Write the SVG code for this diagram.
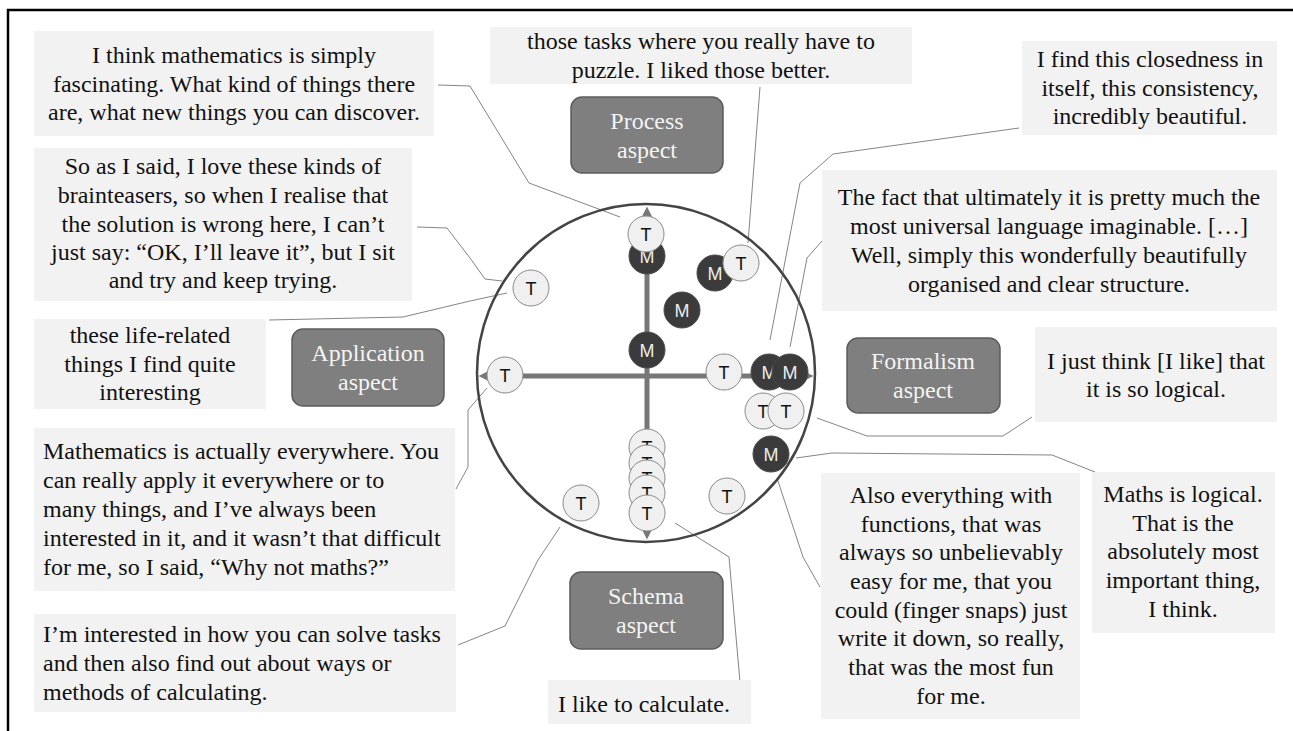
<svg xmlns="http://www.w3.org/2000/svg" width="1293" height="731" viewBox="0 0 1293 731">
<defs>
<style>
.q{fill:#f2f2f2;stroke:none}
.qt{font-family:"Liberation Serif","Times New Roman",serif;font-size:24px;fill:#111}
.c{text-anchor:middle}
.asp{fill:#7f7f7f;stroke:#5c5c5c;stroke-width:1.5}
.at{font-family:"Liberation Serif","Times New Roman",serif;font-size:24px;fill:#f4f4f4;text-anchor:middle}
.con{fill:none;stroke:#858585;stroke-width:1}
.axis{stroke:#777;stroke-width:5;fill:none}
.tn{fill:#f0f0f0;stroke:#8a8a8a;stroke-width:1}
.mn{fill:#3b3b3b;stroke:#4a4a4a;stroke-width:1}
.nt{font-family:"Liberation Sans",Arial,sans-serif;font-size:18px;text-anchor:middle}
.tt{fill:#111}
.mt{fill:#ececec}
</style>
<marker id="ah" viewBox="0 0 10 10" refX="5" refY="5" markerWidth="2.2" markerHeight="2.2" orient="auto-start-reverse">
<path d="M0,0 L10,5 L0,10 z" fill="#777"/>
</marker>
</defs>
<rect width="1293" height="731" fill="#fff"/>
<path d="M8,731 L8,10 L1293,10" fill="none" stroke="#000" stroke-width="2.5"/>

<g id="connectors">
<polyline class="con" points="438,85 470,86 529,183 620,217"/>
<polyline class="con" points="417,227 447,228 470,258 485,279 502,281"/>
<polyline class="con" points="269,320 403,317 470,301 507,293"/>
<polyline class="con" points="456,489 468,467 468,410 487,388"/>
<polyline class="con" points="458,645 505,626 538,560 560,527"/>
<polyline class="con" points="760,87 748,243"/>
<polyline class="con" points="1019,128 833,154 800,183 770,340"/>
<polyline class="con" points="822,241 807,258 790,347"/>
<polyline class="con" points="817,418 867,436 1003,436 1032,417"/>
<polyline class="con" points="796,458 832,453 1052,455 1095,472"/>
<polyline class="con" points="820,587 803,557 777,478"/>
<polyline class="con" points="740,682 729,557 675,523"/>
</g>

<g id="framework">
<circle cx="646" cy="373" r="169" fill="none" stroke="#444" stroke-width="2.5"/>
<line class="axis" x1="484" y1="376" x2="808" y2="376" marker-start="url(#ah)" marker-end="url(#ah)"/>
<line class="axis" x1="647" y1="212" x2="647" y2="534" marker-start="url(#ah)" marker-end="url(#ah)"/>
</g>

<g id="aspect-process"><rect class="asp" x="571" y="97" width="152" height="76" rx="11"/><text class="at" x="647" y="129">Process</text><text class="at" x="647" y="158">aspect</text></g>
<g id="aspect-application"><rect class="asp" x="292" y="329" width="152" height="77" rx="11"/><text class="at" x="368" y="361">Application</text><text class="at" x="368" y="390">aspect</text></g>
<g id="aspect-formalism"><rect class="asp" x="847" y="338" width="153" height="75" rx="11"/><text class="at" x="923" y="369">Formalism</text><text class="at" x="923" y="398">aspect</text></g>
<g id="aspect-schema"><rect class="asp" x="570" y="572" width="153" height="77" rx="11"/><text class="at" x="646" y="604">Schema</text><text class="at" x="646" y="633">aspect</text></g>

<g id="nodes">
<g id="m1"><circle class="mn" cx="647" cy="256" r="18"/><text class="nt mt" x="647" y="263">M</text></g>
<g id="t1"><circle class="tn" cx="646" cy="234" r="18"/><text class="nt tt" x="646" y="241">T</text></g>
<g id="m2"><circle class="mn" cx="715" cy="273" r="18"/><text class="nt mt" x="715" y="280">M</text></g>
<g id="t2"><circle class="tn" cx="741" cy="263" r="18"/><text class="nt tt" x="741" y="270">T</text></g>
<g id="m3"><circle class="mn" cx="682" cy="310" r="18"/><text class="nt mt" x="682" y="317">M</text></g>
<g id="m4"><circle class="mn" cx="647" cy="350" r="18"/><text class="nt mt" x="647" y="357">M</text></g>
<g id="t3"><circle class="tn" cx="531" cy="288" r="18"/><text class="nt tt" x="531" y="295">T</text></g>
<g id="t4"><circle class="tn" cx="505" cy="375" r="18"/><text class="nt tt" x="505" y="382">T</text></g>
<g id="t5"><circle class="tn" cx="724" cy="372" r="18"/><text class="nt tt" x="724" y="379">T</text></g>
<g id="m5"><circle class="mn" cx="769" cy="372" r="18"/><text class="nt mt" x="769" y="379">M</text></g>
<g id="m6"><circle class="mn" cx="790" cy="372" r="18"/><text class="nt mt" x="790" y="379">M</text></g>
<g id="t6"><circle class="tn" cx="763" cy="411" r="18"/><text class="nt tt" x="763" y="418">T</text></g>
<g id="t7"><circle class="tn" cx="786" cy="411" r="18"/><text class="nt tt" x="786" y="418">T</text></g>
<g id="m7"><circle class="mn" cx="771" cy="454" r="18"/><text class="nt mt" x="771" y="461">M</text></g>
<g id="t8"><circle class="tn" cx="647" cy="447" r="18"/><text class="nt tt" x="647" y="454">T</text></g>
<g id="t9"><circle class="tn" cx="647" cy="463" r="18"/><text class="nt tt" x="647" y="470">T</text></g>
<g id="t10"><circle class="tn" cx="647" cy="478" r="18"/><text class="nt tt" x="647" y="485">T</text></g>
<g id="t11"><circle class="tn" cx="647" cy="493" r="18"/><text class="nt tt" x="647" y="500">T</text></g>
<g id="t12"><circle class="tn" cx="647" cy="513" r="18"/><text class="nt tt" x="647" y="520">T</text></g>
<g id="t13"><circle class="tn" cx="581" cy="503" r="18"/><text class="nt tt" x="581" y="510">T</text></g>
<g id="t14"><circle class="tn" cx="727" cy="496" r="18"/><text class="nt tt" x="727" y="503">T</text></g>
</g>

<g id="q1"><rect class="q" x="34" y="31" width="400" height="105"/>
<text class="qt c" x="234" y="63">I think mathematics is simply</text>
<text class="qt c" x="234" y="92">fascinating. What kind of things there</text>
<text class="qt c" x="234" y="120">are, what new things you can discover.</text></g>

<g id="q2"><rect class="q" x="34" y="148" width="378" height="153"/>
<text class="qt c" x="223" y="174">So as I said, I love these kinds of</text>
<text class="qt c" x="223" y="203">brainteasers, so when I realise that</text>
<text class="qt c" x="223" y="232">the solution is wrong here, I can’t</text>
<text class="qt c" x="223" y="260">just say: “OK, I’ll leave it”, but I sit</text>
<text class="qt c" x="223" y="288">and try and keep trying.</text></g>

<g id="q3"><rect class="q" x="34" y="319" width="232" height="90"/>
<text class="qt c" x="150" y="343">these life-related</text>
<text class="qt c" x="150" y="372">things I find quite</text>
<text class="qt c" x="150" y="400">interesting</text></g>

<g id="q4"><rect class="q" x="34" y="428" width="421" height="163"/>
<text class="qt" x="43" y="459">Mathematics is actually everywhere. You</text>
<text class="qt" x="43" y="488">can really apply it everywhere or to</text>
<text class="qt" x="43" y="517">many things, and I’ve always been</text>
<text class="qt" x="43" y="546">interested in it, and it wasn’t that difficult</text>
<text class="qt" x="43" y="575">for me, so I said, “Why not maths?”</text></g>

<g id="q5"><rect class="q" x="34" y="614" width="422" height="98"/>
<text class="qt" x="43" y="642">I’m interested in how you can solve tasks</text>
<text class="qt" x="43" y="671">and then also find out about ways or</text>
<text class="qt" x="43" y="700">methods of calculating.</text></g>

<g id="q6"><rect class="q" x="490" y="27" width="422" height="57"/>
<text class="qt c" x="701" y="49">those tasks where you really have to</text>
<text class="qt c" x="701" y="78">puzzle. I liked those better.</text></g>

<g id="q7"><rect class="q" x="1022" y="41" width="255" height="94"/>
<text class="qt c" x="1150" y="67">I find this closedness in</text>
<text class="qt c" x="1150" y="96">itself, this consistency,</text>
<text class="qt c" x="1150" y="124">incredibly beautiful.</text></g>

<g id="q8"><rect class="q" x="822" y="170" width="455" height="141"/>
<text class="qt c" x="1049" y="205">The fact that ultimately it is pretty much the</text>
<text class="qt c" x="1049" y="234">most universal language imaginable. […]</text>
<text class="qt c" x="1049" y="263">Well, simply this wonderfully beautifully</text>
<text class="qt c" x="1049" y="292">organised and clear structure.</text></g>

<g id="q9"><rect class="q" x="1035" y="327" width="242" height="95"/>
<text class="qt c" x="1156" y="369">I just think [I like] that</text>
<text class="qt c" x="1156" y="397">it is so logical.</text></g>

<g id="q10"><rect class="q" x="1092" y="472" width="183" height="161"/>
<text class="qt c" x="1183" y="502">Maths is logical.</text>
<text class="qt c" x="1183" y="531">That is the</text>
<text class="qt c" x="1183" y="559">absolutely most</text>
<text class="qt c" x="1183" y="588">important thing,</text>
<text class="qt c" x="1183" y="617">I think.</text></g>

<g id="q11"><rect class="q" x="821" y="473" width="259" height="246"/>
<text class="qt c" x="951" y="503">Also everything with</text>
<text class="qt c" x="951" y="532">functions, that was</text>
<text class="qt c" x="951" y="560">always so unbelievably</text>
<text class="qt c" x="951" y="589">easy for me, that you</text>
<text class="qt c" x="951" y="618">could (finger snaps) just</text>
<text class="qt c" x="951" y="646">write it down, so really,</text>
<text class="qt c" x="951" y="675">that was the most fun</text>
<text class="qt c" x="951" y="704">for me.</text></g>

<g id="q12"><rect class="q" x="548" y="680" width="203" height="44"/>
<text class="qt" x="558" y="712">I like to calculate.</text></g>
</svg>
